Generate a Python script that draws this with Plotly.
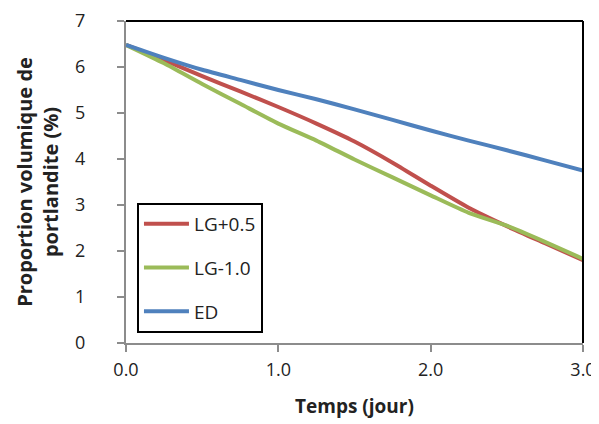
import plotly.graph_objects as go

temps = [0.0, 0.25, 0.5, 0.75, 1.0, 1.25, 1.5, 1.75, 2.0, 2.25, 2.5, 2.75, 3.0]
lg_plus_05 = [6.48, 6.15, 5.80, 5.47, 5.13, 4.77, 4.38, 3.92, 3.42, 2.94, 2.54, 2.17, 1.80]
lg_minus_10 = [6.48, 6.08, 5.63, 5.20, 4.77, 4.40, 3.99, 3.60, 3.21, 2.83, 2.55, 2.20, 1.83]
ed = [6.48, 6.20, 5.94, 5.72, 5.50, 5.30, 5.08, 4.85, 4.62, 4.40, 4.19, 3.97, 3.75]

series_names = ["LG+0.5", "LG-1.0", "ED"]
series_colors = ["#C0504D", "#9BBB59", "#4F81BD"]
x_ticks = [0.0, 1.0, 2.0, 3.0]
x_ticktext = ["0.0", "1.0", "2.0", "3.0"]
y_ticks = [0, 1, 2, 3, 4, 5, 6, 7]

FONT = "Open Sans"
TXT = "#222222"

fig = go.Figure()
for name, vals, col in zip(series_names, [lg_plus_05, lg_minus_10, ed], series_colors):
    fig.add_trace(go.Scatter(
        x=temps, y=vals, mode="lines", name=name, legendgroup=name,
        line=dict(color=col, width=4, shape="spline", smoothing=0.6),
    ))

# page body adds an 8px offset; figure sized so the plot lands where the reference has it
fig.update_layout(
    width=591, height=416,
    margin=dict(l=118, r=16, t=13, b=81),
    paper_bgcolor="white", plot_bgcolor="white",
    font=dict(family=FONT, size=18, color=TXT),
    showlegend=True,
    legend=dict(
        x=0.024, y=0.031, xanchor="left", yanchor="bottom",
        bgcolor="white", bordercolor="black", borderwidth=2,
        font=dict(family=FONT, size=19, color=TXT),
        tracegroupgap=16, traceorder="grouped", itemwidth=45,
    ),
    xaxis=dict(
        range=[0, 3], tickvals=x_ticks, ticktext=x_ticktext,
        showgrid=False, zeroline=False,
        showline=True, linecolor="#8c8c8c", linewidth=2,
        ticks="outside", ticklen=7, tickcolor="#8c8c8c", tickwidth=2,
        ticklabelstandoff=2,
        tickfont=dict(family=FONT, size=18, color=TXT),
        title=dict(text="<b>Temps (jour)</b>", font=dict(family=FONT, size=19, color=TXT), standoff=20),
        automargin=False,
    ),
    yaxis=dict(
        range=[0, 7], tickvals=y_ticks,
        showgrid=False, zeroline=False,
        showline=True, linecolor="#8c8c8c", linewidth=2,
        ticks="outside", ticklen=7, tickcolor="#8c8c8c", tickwidth=2,
        ticklabelstandoff=28,
        tickfont=dict(family=FONT, size=18, color=TXT),
        title=dict(text="<b>Proportion volumique de</b><br><b>portlandite (%)</b>",
                   font=dict(family=FONT, size=20, color=TXT), standoff=11),
        automargin=False,
    ),
    shapes=[
        dict(type="line", xref="paper", yref="paper", x0=0, x1=1, y0=1, y1=1,
             line=dict(color="black", width=2)),
        dict(type="line", xref="paper", yref="paper", x0=1, x1=1, y0=0, y1=1,
             line=dict(color="black", width=2)),
    ],
)

fig.write_html("out.html")
